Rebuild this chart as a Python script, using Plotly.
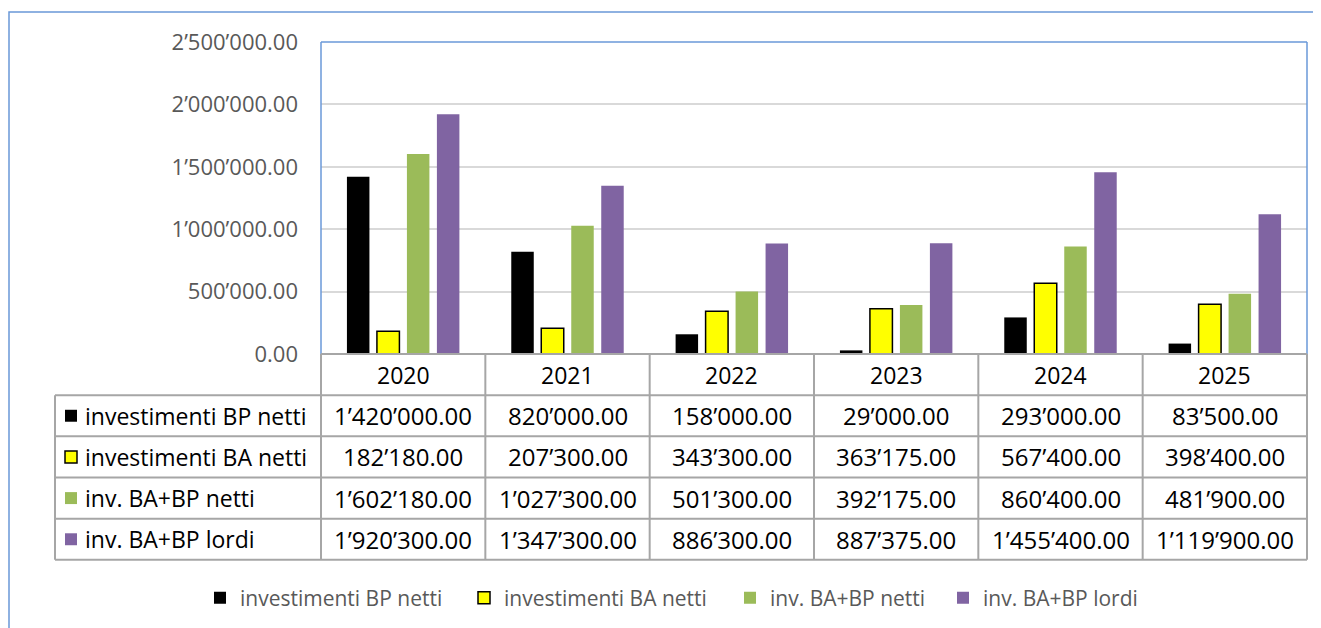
import plotly.graph_objects as go

years = ["2020", "2021", "2022", "2023", "2024", "2025"]
series_names = ["investimenti BP netti", "investimenti BA netti", "inv. BA+BP netti", "inv. BA+BP lordi"]
bp_netti = [1420000.00, 820000.00, 158000.00, 29000.00, 293000.00, 83500.00]
ba_netti = [182180.00, 207300.00, 343300.00, 363175.00, 567400.00, 398400.00]
tot_netti = [1602180.00, 1027300.00, 501300.00, 392175.00, 860400.00, 481900.00]
tot_lordi = [1920300.00, 1347300.00, 886300.00, 887375.00, 1455400.00, 1119900.00]
y_ticks = [0, 500000, 1000000, 1500000, 2000000, 2500000]

series_values = [bp_netti, ba_netti, tot_netti, tot_lordi]
colors = ["#000000", "#FFFF00", "#9BBB59", "#8064A2"]
outlines = ["#000000", "#000000", "#9BBB59", "#8064A2"]
outline_w = [0, 1.5, 0, 0]

def fmt(v):
    return f"{v:,.2f}".replace(",", "\u2019")

# the page body has an 8px margin: work in page coordinates and shift
OFF = 8
W, H = 1321 - OFF, 628 - OFF
L, R, T, B = 321, 1307, 42, 355   # plot area in page coordinates
PW, PH = R - L, B - T

def px(x):
    return (x - L) / PW

def py(y):
    return (B - y) / PH

FONT = "Open Sans"
GRID = "#A6A6A6"
BLUE = "#6A98D8"

fig = go.Figure()
legend_names = ["legend", "legend2", "legend3", "legend4"]
for i, (name, vals) in enumerate(zip(series_names, series_values)):
    fig.add_trace(go.Bar(
        x=years, y=vals, name=name,
        marker=dict(color=colors[i], line=dict(color=outlines[i], width=outline_w[i])),
        legend=legend_names[i],
    ))

n = len(years)
shapes = []
annotations = []

# outer chart frame
shapes.append(dict(type="rect", xref="paper", yref="paper",
                   x0=px(9), x1=px(1321 + 20), y0=py(12), y1=py(628 + 20),
                   line=dict(color=BLUE, width=1.5), fillcolor="rgba(0,0,0,0)", layer="below"))
# plot area border (top, left, right)
shapes.append(dict(type="line", xref="paper", yref="paper", x0=0, x1=1, y0=1, y1=1,
                   line=dict(color=BLUE, width=1.5)))
shapes.append(dict(type="line", xref="paper", yref="paper", x0=0, x1=0, y0=0, y1=1,
                   line=dict(color=BLUE, width=1.5)))
shapes.append(dict(type="line", xref="paper", yref="paper", x0=1, x1=1, y0=0, y1=1,
                   line=dict(color=BLUE, width=1.5)))

# data table
row_h = 41.3
label_x0 = 55
header_top = B
rows_top = B + row_h
table_bottom = B + row_h * (1 + len(series_names))
shapes.append(dict(type="line", xref="paper", yref="paper", x0=0, x1=1, y0=0, y1=0,
                   line=dict(color=GRID, width=2)))
for r in range(len(series_names) + 1):
    yy = rows_top + r * row_h
    shapes.append(dict(type="line", xref="paper", yref="paper", x0=px(label_x0), x1=1,
                       y0=py(yy), y1=py(yy), line=dict(color=GRID, width=2)))
shapes.append(dict(type="line", xref="paper", yref="paper", x0=px(label_x0), x1=px(label_x0),
                   y0=py(rows_top), y1=py(table_bottom), line=dict(color=GRID, width=2)))
for c in range(n + 1):
    xx = c / n
    shapes.append(dict(type="line", xref="paper", yref="paper", x0=xx, x1=xx,
                       y0=py(header_top), y1=py(table_bottom), line=dict(color=GRID, width=2)))

tfont = dict(family=FONT, size=23, color="#000000")
nfont = dict(family=FONT, size=24, color="#000000")
for c, yr in enumerate(years):
    annotations.append(dict(xref="paper", yref="paper", x=(c + 0.5) / n,
                            y=py(header_top + row_h / 2), text=yr, showarrow=False,
                            xanchor="center", yanchor="middle", font=tfont))
for r, (name, vals) in enumerate(zip(series_names, series_values)):
    yc = rows_top + r * row_h + row_h / 2
    shapes.append(dict(type="rect", xref="paper", yref="paper",
                       x0=px(65), x1=px(77), y0=py(yc - 6), y1=py(yc + 6),
                       fillcolor=colors[r],
                       line=dict(color="#000000" if r == 1 else colors[r], width=1.5 if r == 1 else 0)))
    annotations.append(dict(xref="paper", yref="paper", x=px(83), y=py(yc), text=name,
                            showarrow=False, xanchor="left", yanchor="middle", font=tfont))
    for c, v in enumerate(vals):
        annotations.append(dict(xref="paper", yref="paper", x=(c + 0.5) / n, y=py(yc),
                                text=fmt(v), showarrow=False, xanchor="center",
                                yanchor="middle", font=nfont))

lfont = dict(family=FONT, size=21, color="#595959")
legend_x = [200, 464, 730, 943]
legend_cfg = {}
for i, ln in enumerate(legend_names):
    legend_cfg[ln] = dict(x=px(legend_x[i]), y=py(598), xanchor="left", yanchor="middle",
                          orientation="h", font=lfont, bgcolor="rgba(0,0,0,0)",
                          borderwidth=0, itemclick=False, itemdoubleclick=False)

fig.update_layout(
    width=W, height=H,
    margin=dict(l=L - OFF, r=W - (R - OFF), t=T - OFF, b=H - (B - OFF), pad=0),
    paper_bgcolor="#FFFFFF", plot_bgcolor="#FFFFFF",
    barmode="group", bargap=0.27, bargroupgap=0.25,
    showlegend=True,
    xaxis=dict(type="category", range=[-0.5, n - 0.5], showticklabels=False,
               showgrid=False, zeroline=False, showline=False, ticks=""),
    yaxis=dict(range=[0, 2500000], tickvals=y_ticks, ticktext=[fmt(v) for v in y_ticks],
               showgrid=True, gridcolor="#D9D9D9", gridwidth=1.5, zeroline=False,
               showline=False, ticks="", ticklabelstandoff=22,
               tickfont=dict(family=FONT, size=22, color="#595959")),
    shapes=shapes, annotations=annotations,
    **legend_cfg,
)

fig.write_html("out.html")
